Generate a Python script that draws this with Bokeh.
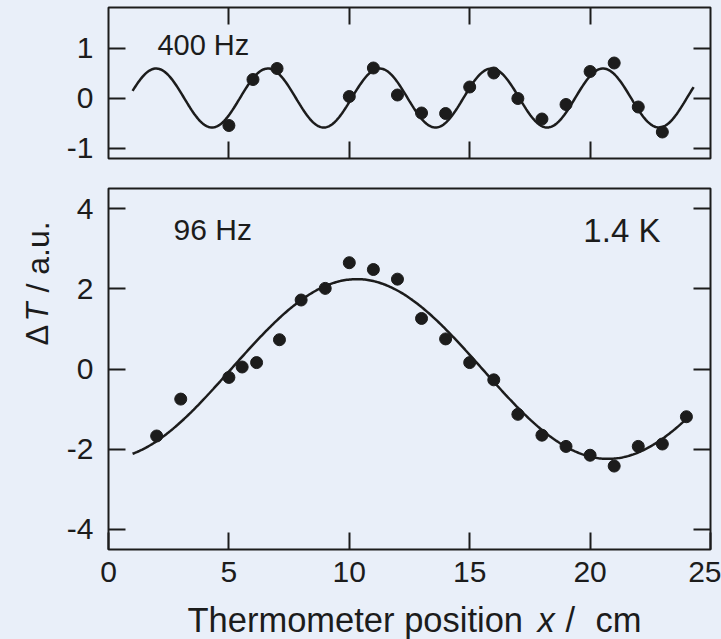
import numpy as np
from bokeh.plotting import figure
from bokeh.layouts import column, row
from bokeh.models import Range1d, LinearAxis, FixedTicker, Label
from bokeh.embed import file_html
from bokeh.resources import INLINE

# ---- measured points -------------------------------------------------------
x_400 = [5, 6, 7, 10, 11, 12, 13, 14, 15, 16, 17, 18, 19, 20, 21, 22, 23]
y_400 = [-0.55, 0.37, 0.59, 0.03, 0.60, 0.06, -0.30, -0.31, 0.22, 0.50,
         -0.01, -0.42, -0.13, 0.53, 0.70, -0.18, -0.68]

x_96 = [2, 3, 5, 5.55, 6.15, 7.1, 8, 9, 10, 11, 12, 13, 14, 15, 16, 17, 18,
        19, 20, 21, 22, 23, 24]
y_96 = [-1.67, -0.75, -0.21, 0.05, 0.16, 0.73, 1.72, 2.01, 2.65, 2.48, 2.24,
        1.26, 0.75, 0.16, -0.27, -1.13, -1.65, -1.93, -2.15, -2.42, -1.93,
        -1.87, -1.19]

# ---- fitted sinusoids (parameters) ------------------------------------------
fit400_amp = 0.59
fit400_wavelength = 4.64
fit400_crest = 1.98
fit400_span = [1.0, 24.3]

fit96_amp = 2.24
fit96_wavelength = 20.86
fit96_crest = 10.31
fit96_span = [1.0, 24.05]

# ---- ticks -------------------------------------------------------------------
top_yticks = [-1, 0, 1]
bottom_yticks = [-4, -2, 0, 2, 4]
xticks = [0, 5, 10, 15, 20, 25]
inner_xticks = [5, 10, 15, 20]

BG = "#e9eff9"
INK = "#1c1c1c"
FONT = "Liberation Sans"


def fit_curve(amp, wavelength, crest, span):
    xs = np.linspace(span[0], span[1], 400)
    return xs, amp * np.cos(2 * np.pi * (xs - crest) / wavelength)


def make_fig(width, height, yr, top, bottom, left, right):
    p = figure(width=width, height=height, x_range=Range1d(0, 25),
               y_range=Range1d(*yr), x_axis_location=None,
               y_axis_location=None, toolbar_location=None,
               output_backend="svg", min_border_left=left,
               min_border_right=right, min_border_top=top,
               min_border_bottom=bottom)
    p.background_fill_color = BG
    p.border_fill_color = BG
    p.outline_line_color = INK
    p.outline_line_width = 2
    p.outline_line_alpha = 1
    for g in p.grid:
        g.visible = False
    return p


def blank_fig(width, height, xr, yr, left=0, right=0):
    # canvas-only figure used to hold the axis titles
    p = figure(width=width, height=height, x_range=Range1d(*xr),
               y_range=Range1d(*yr), x_axis_location=None,
               y_axis_location=None, toolbar_location=None,
               output_backend="svg", min_border_left=left,
               min_border_right=right, min_border_top=0,
               min_border_bottom=0)
    p.background_fill_color = BG
    p.border_fill_color = BG
    p.outline_line_color = None
    for g in p.grid:
        g.visible = False
    return p


def add_axis(p, place, ticks, labels=True, standoff=15):
    ax = LinearAxis(ticker=FixedTicker(ticks=ticks))
    ax.axis_line_color = None
    ax.major_tick_in = 17
    ax.major_tick_out = 0
    ax.minor_tick_line_color = None
    ax.major_tick_line_color = INK
    ax.major_tick_line_width = 2
    if labels:
        ax.major_label_text_font = FONT
        ax.major_label_text_font_size = "30px"
        ax.major_label_text_color = INK
        ax.major_label_standoff = standoff
        ax.major_label_overrides = {t: str(t) for t in ticks}
    else:
        ax.major_label_text_font_size = "0px"
        ax.major_label_text_color = None
        ax.major_label_standoff = 0
    p.add_layout(ax, place)


def add_text(p, x, y, text, size, style="normal", align="left", angle=0):
    p.add_layout(Label(x=x, y=y, text=text, text_font=FONT,
                       text_font_size=size, text_font_style=style,
                       text_color=INK, text_align=align,
                       text_baseline="middle", angle=angle))


LEFT_W = 60
RIGHT_W = 721 - LEFT_W

# ---- top panel (400 Hz) ---------------------------------------------------
p1 = make_fig(RIGHT_W, 173, (-1.21, 1.81), 7, 15, 48, 11)
add_axis(p1, "left", top_yticks)
add_axis(p1, "right", top_yticks, labels=False)
add_axis(p1, "below", inner_xticks, labels=False)
add_axis(p1, "above", inner_xticks, labels=False)
cx, cy = fit_curve(fit400_amp, fit400_wavelength, fit400_crest, fit400_span)
p1.line(cx, cy, line_color=INK, line_width=2.5)
p1.scatter(x_400, y_400, size=12, color=INK)
add_text(p1, 2.03, 1.07, "400 Hz", "29px")

# ---- bottom panel (96 Hz) -------------------------------------------------
p2 = make_fig(RIGHT_W, 425, (-4.5, 4.5), 15, 49, 48, 11)
add_axis(p2, "left", bottom_yticks)
add_axis(p2, "right", bottom_yticks, labels=False)
add_axis(p2, "below", xticks, standoff=12)
cx, cy = fit_curve(fit96_amp, fit96_wavelength, fit96_crest, fit96_span)
p2.line(cx, cy, line_color=INK, line_width=2.5)
p2.scatter(x_96, y_96, size=12, color=INK)
add_text(p2, 2.70, 3.48, "96 Hz", "30px")
add_text(p2, 22.92, 3.45, "1.4 K", "33px", align="right")

# ---- x-axis title strip (page-pixel coordinates, frame aligned 108..710) ---
px = blank_fig(RIGHT_W, 41, (108, 710), (639, 598), left=48, right=11)
add_text(px, 187, 619.6, "Thermometer position", "34.5px")
add_text(px, 537, 619.6, "x", "34.5px", style="italic")
add_text(px, 565, 619.6, "/", "34.5px")
add_text(px, 595, 619.6, "cm", "34.5px")

# ---- y-axis title strip (page-pixel coordinates) --------------------------
py = blank_fig(LEFT_W, 639, (0, LEFT_W), (639, 0))
add_text(py, 37, 345, "\u0394", "31px", angle=np.pi / 2)
add_text(py, 37, 321, "T", "31px", style="italic", angle=np.pi / 2)
add_text(py, 37, 292, "/ a.u.", "32px", angle=np.pi / 2)

right = column(p1, p2, px, spacing=0, styles={"background-color": BG})
layout = row(py, right, spacing=0, styles={"background-color": BG})
open("out.html", "w").write(file_html(layout, INLINE))
